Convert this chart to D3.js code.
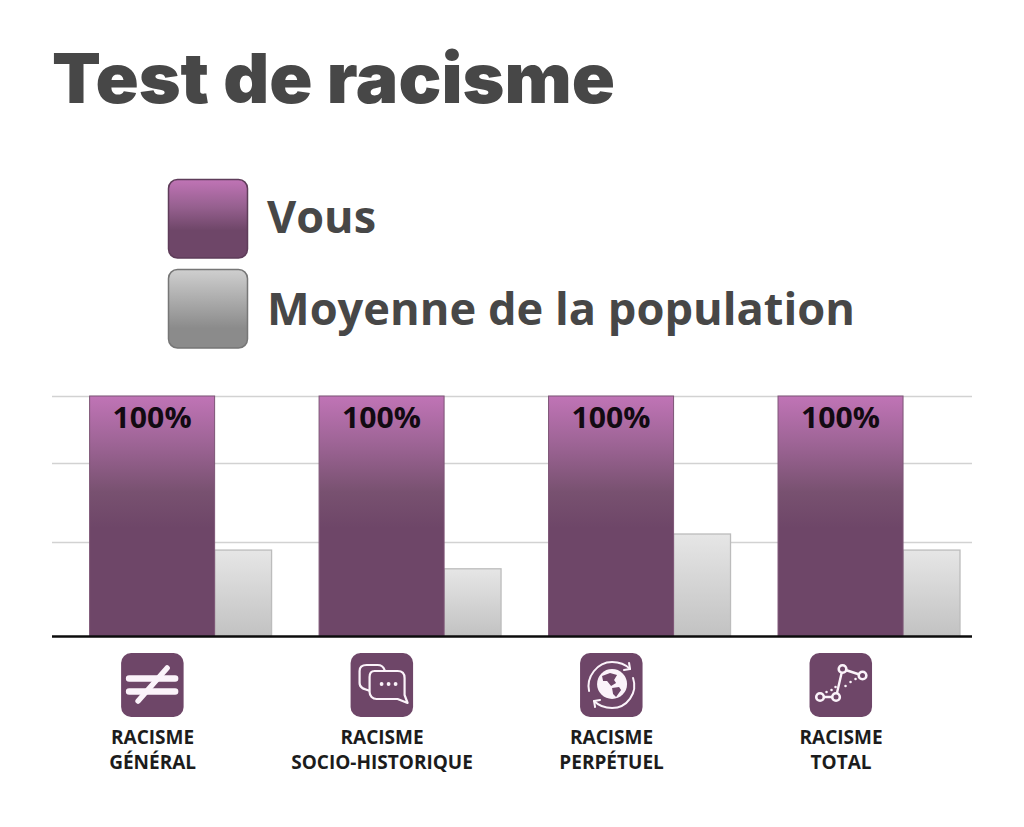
<!DOCTYPE html>
<html>
<head>
<meta charset="utf-8" />
<title>Test de racisme</title>
<style>
  html, body { margin: 0; padding: 0; background: #fff; }
  svg { display: block; }
  text { font-family: "Open Sans", sans-serif; font-weight: 700; }
</style>
</head>
<body>
<div id="chart"></div>
<script src="https://cdn.jsdelivr.net/npm/d3@7"></script>
<script>
var categories = ["general", "socio", "perpetuel", "total"];
var labelLines = [
  ["RACISME", "GÉNÉRAL"],
  ["RACISME", "SOCIO-HISTORIQUE"],
  ["RACISME", "PERPÉTUEL"],
  ["RACISME", "TOTAL"]
];
var vous = [100, 100, 100, 100];
var moyenne = [35.8, 28, 42.5, 35.8];
var gridValues = [39, 72, 100];
var legendLabels = ["Vous", "Moyenne de la population"];

var width = 1024, height = 827;
var baseY = 636, topY = 396;

var svg = d3.select("#chart").append("svg")
    .attr("width", width)
    .attr("height", height);

var defs = svg.append("defs");
function gradient(id, stops) {
  var g = defs.append("linearGradient").attr("id", id)
      .attr("x1", 0).attr("y1", 0).attr("x2", 0).attr("y2", 1);
  stops.forEach(function (s) {
    g.append("stop").attr("offset", s[0]).attr("stop-color", s[1]);
  });
}
gradient("barPurple", [[0, "#c074b6"], [0.2, "#9d6495"], [0.4, "#785170"], [0.55, "#6e4668"], [1, "#6e4668"]]);
gradient("barGrey", [[0, "#e6e6e6"], [1, "#c2c2c2"]]);
gradient("legPurple", [[0, "#c074b6"], [0.35, "#96608f"], [0.65, "#6e4668"], [1, "#6e4668"]]);
gradient("legGrey", [[0, "#cfcfcf"], [0.75, "#8b8b8b"], [1, "#8b8b8b"]]);

var x = d3.scaleBand().domain(categories).range([89.6, 960]).paddingInner(0.207);
var w = d3.scaleLinear().domain([0, 1]).range([0, x.bandwidth()]);
var y = d3.scaleLinear().domain([0, 100]).range([baseY, topY]);
var vousShare = 0.687;

// title
svg.append("text")
    .attr("x", 52).attr("y", 103)
    .attr("textLength", 563)
    .attr("lengthAdjust", "spacingAndGlyphs")
    .style("font-family", "Inter, sans-serif")
    .style("font-weight", 900)
    .style("font-size", "69px")
    .attr("fill", "#474747")
    .text("Test de racisme");

// legend
var legend = svg.selectAll(".legend").data(legendLabels).enter().append("g")
    .attr("class", "legend")
    .attr("transform", function (d, i) { return "translate(168," + (179 + i * 90) + ")"; });
legend.append("rect")
    .attr("x", 0.5).attr("y", 0.5)
    .attr("width", 79).attr("height", 78.5)
    .attr("rx", 9)
    .attr("fill", function (d, i) { return i ? "url(#legGrey)" : "url(#legPurple)"; })
    .attr("stroke", function (d, i) { return i ? "#767676" : "#5e3c59"; })
    .attr("stroke-width", 1.5);
legend.append("text")
    .attr("x", 99)
    .attr("y", function (d, i) { return i ? 56 : 54; })
    .attr("textLength", function (d, i) { return i ? 588 : 109; })
    .attr("lengthAdjust", "spacingAndGlyphs")
    .style("font-size", "44px")
    .attr("fill", "#474747")
    .text(function (d) { return d; });

// gridlines
svg.selectAll(".grid").data(gridValues).enter().append("line")
    .attr("class", "grid")
    .attr("x1", 52).attr("x2", 972)
    .attr("y1", function (d) { return Math.round(y(d)) + 0.5; })
    .attr("y2", function (d) { return Math.round(y(d)) + 0.5; })
    .attr("stroke", "#d2d2d2")
    .attr("stroke-width", 1.3);

// bars
svg.selectAll(".bar-grey").data(categories).enter().append("rect")
    .attr("class", "bar-grey")
    .attr("x", function (d) { return x(d) + w(vousShare); })
    .attr("y", function (d, i) { return y(moyenne[i]); })
    .attr("width", w(1 - vousShare))
    .attr("height", function (d, i) { return baseY - y(moyenne[i]); })
    .attr("fill", "url(#barGrey)")
    .attr("stroke", "#bcbcbc")
    .attr("stroke-width", 1.3);

svg.selectAll(".bar-vous").data(categories).enter().append("rect")
    .attr("class", "bar-vous")
    .attr("x", function (d) { return x(d); })
    .attr("y", function (d, i) { return y(vous[i]); })
    .attr("width", w(vousShare))
    .attr("height", function (d, i) { return baseY - y(vous[i]); })
    .attr("fill", "url(#barPurple)")
    .attr("stroke", "#7d5576");

svg.selectAll(".value").data(categories).enter().append("text")
    .attr("class", "value")
    .attr("x", function (d) { return x(d) + w(vousShare) / 2; })
    .attr("y", function (d, i) { return y(vous[i]) + 32; })
    .attr("text-anchor", "middle")
    .attr("textLength", 79)
    .attr("lengthAdjust", "spacingAndGlyphs")
    .style("font-size", "29px")
    .attr("fill", "#120a12")
    .text(function (d, i) { return vous[i] + "%"; });

// axis line
svg.append("line")
    .attr("x1", 52).attr("x2", 972)
    .attr("y1", baseY + 0.5).attr("y2", baseY + 0.5)
    .attr("stroke", "#0c0c0c")
    .attr("stroke-width", 2.6);

// category labels
var labels = svg.selectAll(".cat").data(categories).enter().append("text")
    .attr("class", "cat")
    .attr("text-anchor", "middle")
    .style("font-size", "19px")
    .attr("fill", "#1c1c1c");
labels.each(function (d, i) {
  d3.select(this).selectAll("tspan").data(labelLines[i]).enter().append("tspan")
      .attr("x", x(d) + w(vousShare) / 2 + 0.5)
      .attr("y", function (t, j) { return 744 + j * 25; })
      .text(function (t) { return t; });
});

// icons, 64px tile centred under the purple bar
var icons = svg.selectAll(".icon").data(categories).enter().append("g")
    .attr("class", "icon")
    .attr("transform", function (d) {
      return "translate(" + (x(d) + w(vousShare) / 2 - 31) + ",653)";
    });
icons.append("rect")
    .attr("width", 62.5).attr("height", 64).attr("rx", 10)
    .attr("fill", "#6e4668");

var ink = "#fbf3fa";
function stroke(sel, wd) {
  return sel.attr("fill", "none").attr("stroke", ink).attr("stroke-width", wd)
      .attr("stroke-linecap", "round").attr("stroke-linejoin", "round");
}

// not equal
var ne = icons.filter(function (d) { return d === "general"; });
stroke(ne.append("path").attr("d", "M8 25.5H54M8 38.5H54").attr("stroke-linecap", "butt"), 6.5);
stroke(ne.append("path").attr("d", "M17 48L46 15").attr("stroke-linecap", "butt"), 5.5);

// speech bubbles
var sp = icons.filter(function (d) { return d === "socio"; });
stroke(sp.append("path").attr("d", "M20 38C13 36 9 35 9 30V18C9 13 13 12 16 12H27C31 12 33 14 34 17"), 2.2);
sp.append("path")
    .attr("d", "M24 18H47C52 18 54 21 54 25V42L57 50L47 46H26C22 46 19 43 19 39V24C19 20 21 18 24 18Z")
    .attr("fill", "#6e4668").attr("stroke", ink).attr("stroke-width", 2.2).attr("stroke-linejoin", "round");
sp.selectAll(".dot").data([31, 38, 45]).enter().append("circle")
    .attr("cx", function (d) { return d; }).attr("cy", 31).attr("r", 1.9).attr("fill", ink);

// globe with arrows
var gl = icons.filter(function (d) { return d === "perpetuel"; });
gl.append("circle").attr("cx", 32).attr("cy", 31).attr("r", 15).attr("fill", ink);
gl.append("path")
    .attr("d", "M22 23L30 20L37 22L34 27L36 30L31 33L27 28L23 28ZM32 35L39 34L41 37L36 44L33 41Z")
    .attr("fill", "#6e4668");
stroke(gl.append("path").attr("d", "M9 38C6 24 17 9 32 9C40 9 46 12 50 16"), 2);
stroke(gl.append("path").attr("d", "M53 25C58 40 47 55 32 55C24 55 18 52 14 48"), 2);
stroke(gl.append("path").attr("d", "M44 17L50 16L49 10"), 2);
stroke(gl.append("path").attr("d", "M20 47L14 48L15 54"), 2);

// line with points
var tl = icons.filter(function (d) { return d === "total"; });
stroke(tl.append("path").attr("d", "M10.5 44H26.5L33 16L53 22.5"), 2.4);
tl.selectAll(".node").data([[10.5, 44], [26.5, 44], [33, 16], [53, 22.5]]).enter().append("circle")
    .attr("cx", function (d) { return d[0]; }).attr("cy", function (d) { return d[1]; })
    .attr("r", 3.8).attr("fill", "#6e4668").attr("stroke", ink).attr("stroke-width", 2.6);
tl.selectAll(".spec").data([[17, 39], [22, 37], [26, 34], [36, 33], [41, 29], [46, 26]]).enter().append("circle")
    .attr("cx", function (d) { return d[0]; }).attr("cy", function (d) { return d[1]; })
    .attr("r", 1.3).attr("fill", ink);
</script>
</body>
</html>
